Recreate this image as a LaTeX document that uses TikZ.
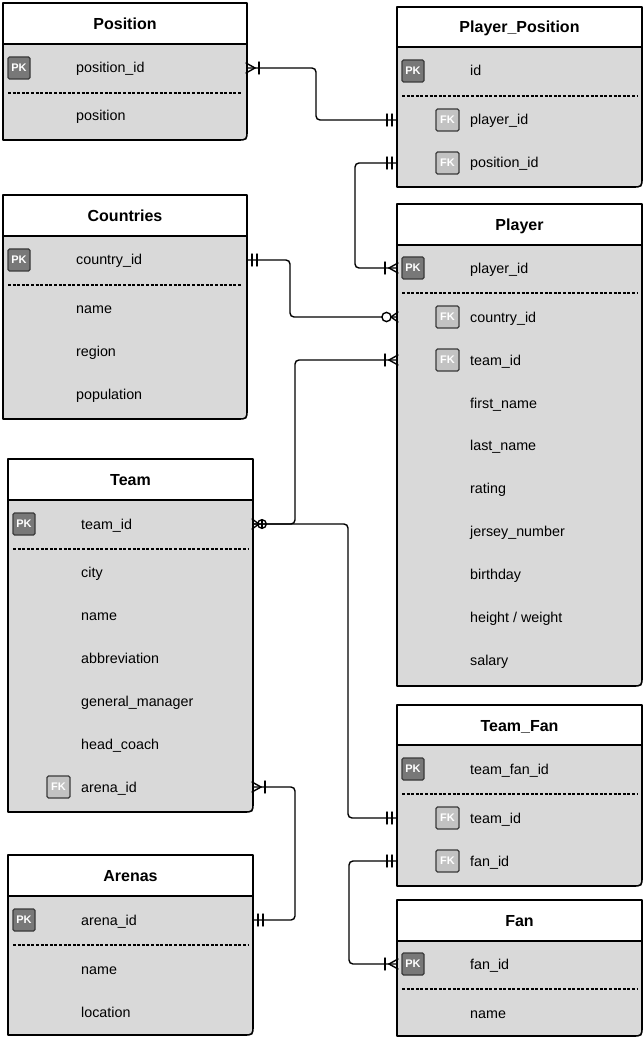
\documentclass[tikz,border=0pt]{standalone}
\usepackage{fontspec}
\setmainfont{Liberation Sans}
\usetikzlibrary{calc}
\definecolor{bodygray}{HTML}{D9D9D9}
\definecolor{pkgray}{HTML}{787878}
\definecolor{fkgray}{HTML}{C2C2C2}
\definecolor{badgeline}{HTML}{3A3A3A}
\tikzset{
  tbl/.style={draw=black, line width=1.6pt, line join=round},
  sepline/.style={draw=black, line width=1.2pt, dash pattern=on 3pt off 1.6pt},
  tabletitle/.style={anchor=base, inner sep=0pt, font=\bfseries\fontsize{16}{19}\selectfont},
  fieldtxt/.style={anchor=base west, inner sep=0pt, font=\fontsize{14.3}{17}\selectfont, text=black},
  pkbadge/.style={draw=badgeline, fill=pkgray, line width=1.2pt, minimum width=22pt, minimum height=22pt, inner sep=0pt, rounded corners=1.5pt, text=white, font=\bfseries\fontsize{11}{13}\selectfont},
  fkbadge/.style={draw=badgeline, fill=fkgray, line width=1.2pt, minimum width=23pt, minimum height=22pt, inner sep=0pt, rounded corners=1.5pt, text=white, font=\bfseries\fontsize{11}{13}\selectfont},
  conn/.style={draw=black, line width=1.4pt, rounded corners=4pt, line cap=round},
  endmark/.style={draw=black, line width=1.4pt, line cap=round},
}
% table frame: #1 name, #2 title, #3 x1, #4 x2, #5 top, #6 header bottom, #7 bottom
\newcommand\erTable[7]{%
  \filldraw[tbl, fill=white] (#3,#5) -- (#4,#5) -- (#4,#6) -- (#3,#6) -- cycle;
  \filldraw[tbl, fill=bodygray] (#3,#6) -- (#4,#6) -- (#4,#7-10) .. controls (#4,#7) .. (#4-10,#7) -- (#3,#7) -- cycle;
  \node[tabletitle] (#1) at ({(#3+#4)/2},{(#5+#6)/2+6}) {#2};
}
% field: #1 name, #2 table left, #3 y, #4 text
\newcommand\erField[4]{\node[fieldtxt] (#1) at (#2+73,#3+5) {#4};}
\newcommand\erPK[3]{\node[pkbadge] (#1) at (#2+16,#3) {PK};}
\newcommand\erFK[3]{\node[fkbadge] (#1) at (#2+50.5,#3) {FK};}
\newcommand\erSep[3]{\draw[sepline] (#1+5,#3) -- (#2-5,#3);}
% end marks at a table edge; #1 coordinate, #2 direction (+1 right, -1 left)
\newcommand\capOneMany[2]{\begin{scope}[shift={(#1)},xscale=#2]
  \draw[endmark] (-1,-5) -- (8,0) -- (-1,5); \draw[endmark] (12,-6) -- (12,6);\end{scope}}
\newcommand\capOnlyOne[2]{\begin{scope}[shift={(#1)},xscale=#2]
  \draw[endmark] (5,-6) -- (5,6); \draw[endmark] (10,-6) -- (10,6);\end{scope}}
\newcommand\capZeroMany[2]{\begin{scope}[shift={(#1)},xscale=#2]
  \draw[endmark] (-1,-5) -- (6,0) -- (-1,5); \draw[endmark, fill=white] (10.5,0) circle[radius=4.6];\end{scope}}
\newcommand\capZeroManyBar[2]{\begin{scope}[shift={(#1)},xscale=#2]
  \draw[endmark] (-1,-5) -- (6,0) -- (-1,5); \draw[endmark] (9,0) circle[radius=4.3]; \draw[endmark] (9,-4.3) -- (9,4.3);\end{scope}}

\begin{document}
\begin{tikzpicture}[x=1pt,y=-1pt]
\useasboundingbox (0,0) rectangle (644,1040);

% ---------- Position
\erTable{posT}{Position}{3}{247}{3}{44}{140}
\erPK{posPK}{3}{68}
\erField{posPid}{3}{68}{position\_id}
\erSep{3}{247}{93}
\erField{posPos}{3}{116}{position}

% ---------- Player_Position
\erTable{ppT}{Player\_Position}{397}{642}{7}{47}{187}
\erPK{ppPK}{397}{71}
\erField{ppId}{397}{71}{id}
\erSep{397}{642}{96}
\erFK{ppFK1}{397}{120}
\erField{ppPlayer}{397}{120}{player\_id}
\erFK{ppFK2}{397}{163}
\erField{ppPos}{397}{163}{position\_id}

% ---------- Countries
\erTable{coT}{Countries}{3}{247}{195}{236}{419}
\erPK{coPK}{3}{260}
\erField{coCid}{3}{260}{country\_id}
\erSep{3}{247}{285}
\erField{coName}{3}{308}{name}
\erField{coRegion}{3}{351}{region}
\erField{coPop}{3}{394}{population}

% ---------- Player
\erTable{plT}{Player}{397}{642}{204}{245}{686}
\erPK{plPK}{397}{268}
\erField{plPid}{397}{268}{player\_id}
\erSep{397}{642}{293}
\erFK{plFK1}{397}{317}
\erField{plCid}{397}{317}{country\_id}
\erFK{plFK2}{397}{360}
\erField{plTid}{397}{360}{team\_id}
\erField{plFirst}{397}{403}{first\_name}
\erField{plLast}{397}{445}{last\_name}
\erField{plRating}{397}{488}{rating}
\erField{plJersey}{397}{531}{jersey\_number}
\erField{plBirth}{397}{574}{birthday}
\erField{plHW}{397}{617}{height / weight}
\erField{plSalary}{397}{660}{salary}

% ---------- Team
\erTable{tmT}{Team}{8}{253}{459}{500}{812}
\erPK{tmPK}{8}{524}
\erField{tmTid}{8}{524}{team\_id}
\erSep{8}{253}{549}
\erField{tmCity}{8}{572}{city}
\erField{tmName}{8}{615}{name}
\erField{tmAbbr}{8}{658}{abbreviation}
\erField{tmGM}{8}{701}{general\_manager}
\erField{tmHC}{8}{744}{head\_coach}
\erFK{tmFK}{8}{787}
\erField{tmAid}{8}{787}{arena\_id}

% ---------- Arenas
\erTable{arT}{Arenas}{8}{253}{855}{896}{1035}
\erPK{arPK}{8}{920}
\erField{arAid}{8}{920}{arena\_id}
\erSep{8}{253}{945}
\erField{arName}{8}{969}{name}
\erField{arLoc}{8}{1012}{location}

% ---------- Team_Fan
\erTable{tfT}{Team\_Fan}{397}{642}{705}{745}{886}
\erPK{tfPK}{397}{769}
\erField{tfId}{397}{769}{team\_fan\_id}
\erSep{397}{642}{794}
\erFK{tfFK1}{397}{818}
\erField{tfTid}{397}{818}{team\_id}
\erFK{tfFK2}{397}{861}
\erField{tfFid}{397}{861}{fan\_id}

% ---------- Fan
\erTable{fnT}{Fan}{397}{642}{900}{941}{1036}
\erPK{fnPK}{397}{964}
\erField{fnFid}{397}{964}{fan\_id}
\erSep{397}{642}{989}
\erField{fnName}{397}{1013}{name}

% ---------- connector end points at table edges
\coordinate (posPidR) at (247,68);
\coordinate (ppPlayerL) at (397,120);
\coordinate (ppPosL) at (397,163);
\coordinate (coCidR) at (247,260);
\coordinate (plPidL) at (397,268);
\coordinate (plCidL) at (397,317);
\coordinate (plTidL) at (397,360);
\coordinate (tmTidR) at (253,524);
\coordinate (tmAidR) at (253,787);
\coordinate (arAidR) at (253,920);
\coordinate (tfTidL) at (397,818);
\coordinate (tfFidL) at (397,861);
\coordinate (fnFidL) at (397,964);

% ---------- connectors
\draw[conn] (posPidR) -- ++(69,0) |- (ppPlayerL);
\draw[conn] (ppPosL) -- ++(-42,0) |- (plPidL);
\draw[conn] (coCidR) -- ++(43,0) |- (plCidL);
\draw[conn] (tmTidR) -- ++(42,0) |- (plTidL);
\draw[conn] (tmTidR) -- ++(95,0) |- (tfTidL);
\draw[conn] (tmAidR) -- ++(42,0) |- (arAidR);
\draw[conn] (tfFidL) -- ++(-48,0) |- (fnFidL);

% ---------- end marks
\capOneMany{posPidR}{1}
\capOnlyOne{ppPlayerL}{-1}
\capOnlyOne{ppPosL}{-1}
\capOneMany{plPidL}{-1}
\capOnlyOne{coCidR}{1}
\capZeroMany{plCidL}{-1}
\capZeroManyBar{tmTidR}{1}
\capOneMany{plTidL}{-1}
\capOnlyOne{tfTidL}{-1}
\capOneMany{tmAidR}{1}
\capOnlyOne{arAidR}{1}
\capOnlyOne{tfFidL}{-1}
\capOneMany{fnFidL}{-1}
\end{tikzpicture}
\end{document}
